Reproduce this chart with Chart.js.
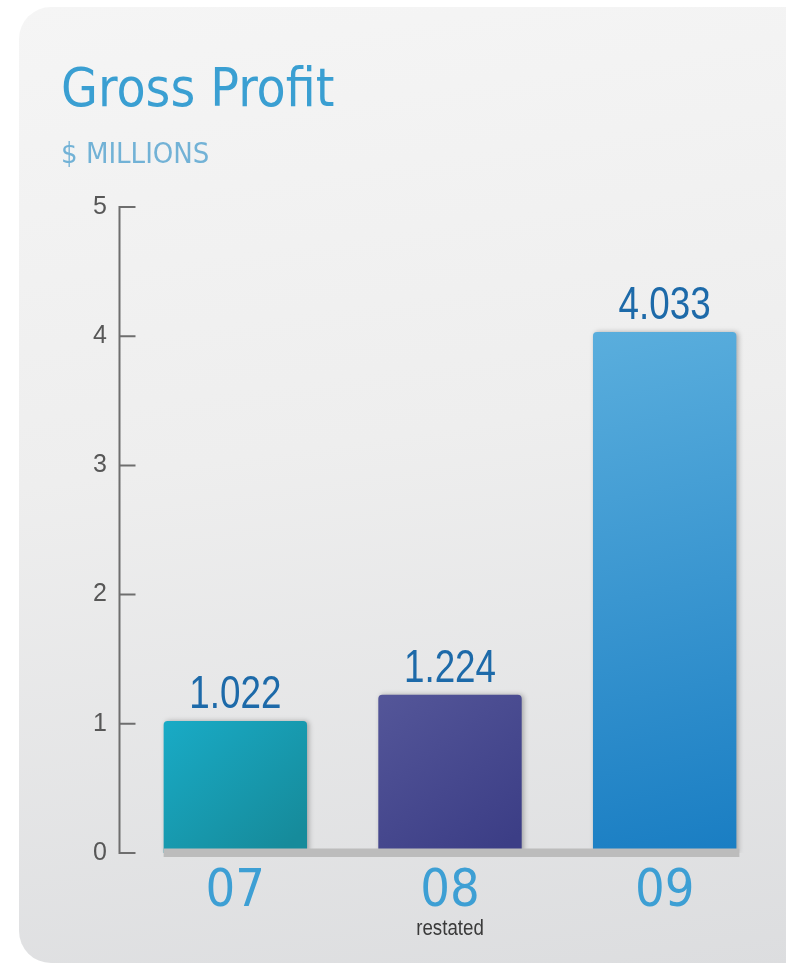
<!DOCTYPE html>
<html>
<head>
<meta charset="utf-8">
<script src="https://cdn.jsdelivr.net/npm/chart.js@4/dist/chart.umd.min.js"></script>
<style>
  html, body { margin: 0; padding: 0; background: #ffffff; }
  #wrap { position: relative; width: 786px; height: 965px; overflow: hidden; }
  #panel { position: absolute; left: 19px; top: 7px; width: 800px; height: 956px;
           border-radius: 32px;
           background: linear-gradient(172deg, #f5f5f5 0%, #eeeeee 45%, #dcdddf 100%); }
  #c { position: absolute; left: 0; top: 0; }
</style>
</head>
<body>
<div id="wrap">
  <div id="panel"></div>
  <canvas id="c" width="786" height="965"></canvas>
</div>
<script>
// ---- data ----
const titleText = 'Gross Profit';
const subtitleText = '$ MILLIONS';
const categories = ['07', '08', '09'];
const subLabels = ['', 'restated', ''];
const values = [1.022, 1.224, 4.033];
const valueLabels = ['1.022', '1.224', '4.033'];
const yTicks = [0, 1, 2, 3, 4, 5];
const barTopColors = ['#19abc6', '#545699', '#5aaedd'];
const barBottomColors = ['#168b9b', '#3c3e86', '#1a7ec3'];

const condensed = "'DejaVu Sans Condensed', 'Liberation Sans Narrow', sans-serif";
const regular = "'Liberation Sans', Arial, sans-serif";

function barGradient(context) {
  const chart = context.chart;
  const area = chart.chartArea;
  const i = context.dataIndex;
  if (!area || i === undefined) return barTopColors[i || 0];
  const xs = chart.scales.x, ys = chart.scales.y;
  const cx = xs.getPixelForValue(i);
  const top = ys.getPixelForValue(values[i]);
  const bottom = ys.getPixelForValue(0);
  const half = 72;
  const g = chart.ctx.createLinearGradient(cx - half, top, cx + half * 0.6, bottom);
  g.addColorStop(0, barTopColors[i]);
  g.addColorStop(1, barBottomColors[i]);
  return g;
}

function narrowText(ctx, text, x, y, font, sx) {
  ctx.save();
  ctx.font = font;
  ctx.translate(x, y);
  ctx.scale(sx, 1);
  ctx.fillText(text, 0, 0);
  ctx.restore();
}

const decorPlugin = {
  id: 'decor',
  beforeDatasetsDraw(chart) {
    const ctx = chart.ctx;
    ctx.save();
    ctx.shadowColor = 'rgba(0,0,0,0.28)';
    ctx.shadowBlur = 5;
    ctx.shadowOffsetX = 2;
    ctx.shadowOffsetY = 0;
  },
  afterDatasetsDraw(chart) {
    const ctx = chart.ctx;
    ctx.restore();
    const ys = chart.scales.y;
    const xs = chart.scales.x;
    const area = chart.chartArea;
    const meta = chart.getDatasetMeta(0);
    const zero = ys.getPixelForValue(0);
    const top = ys.getPixelForValue(ys.max);
    // floor band
    const first = meta.data[0], last = meta.data[meta.data.length - 1];
    const bl = first.x - first.width / 2;
    const br = last.x + last.width / 2 + 3;
    ctx.save();
    ctx.fillStyle = '#bcbcbc';
    ctx.fillRect(bl, zero - 4.5, br - bl, 8.5);
    ctx.restore();
    // axis line + ticks
    const ax = area.left - 8.5;
    ctx.save();
    ctx.strokeStyle = '#6e6e6e';
    ctx.lineWidth = 2;
    ctx.beginPath();
    ctx.moveTo(ax, top - 1);
    ctx.lineTo(ax, zero + 1);
    yTicks.forEach(v => {
      const y = ys.getPixelForValue(v);
      ctx.moveTo(ax - 1, y);
      ctx.lineTo(ax + 16, y);
    });
    ctx.stroke();
    ctx.restore();
    // value labels
    ctx.save();
    ctx.fillStyle = '#1d6aa9';
    ctx.textAlign = 'center';
    ctx.textBaseline = 'alphabetic';
    meta.data.forEach((bar, i) => {
      narrowText(ctx, valueLabels[i], bar.x, bar.y - 13, '46px ' + regular, 0.8);
    });
    ctx.restore();
    // sub labels under categories
    ctx.save();
    ctx.fillStyle = '#3a3a3a';
    ctx.textAlign = 'center';
    ctx.textBaseline = 'alphabetic';
    subLabels.forEach((s, i) => {
      if (s) narrowText(ctx, s, xs.getPixelForValue(i), 935, '22px ' + regular, 0.85);
    });
    ctx.restore();
  }
};

new Chart(document.getElementById('c'), {
  type: 'bar',
  data: {
    labels: categories,
    datasets: [{
      data: values,
      backgroundColor: barGradient,
      borderWidth: 0,
      borderRadius: { topLeft: 4, topRight: 4, bottomLeft: 0, bottomRight: 0 },
      borderSkipped: 'bottom',
      categoryPercentage: 1,
      barPercentage: 0.668
    }]
  },
  options: {
    responsive: false,
    animation: false,
    events: [],
    layout: { padding: { left: 61, right: 14, top: 0, bottom: 0 } },
    plugins: {
      legend: { display: false },
      tooltip: { enabled: false },
      title: {
        display: true,
        text: titleText,
        align: 'start',
        color: '#3a9fd2',
        font: { family: condensed, size: 53, weight: 'normal', lineHeight: 1.2 },
        padding: { top: 60, bottom: 0 }
      },
      subtitle: {
        display: true,
        text: subtitleText,
        align: 'start',
        color: '#72b2d6',
        font: { family: condensed, size: 29, weight: 'normal', lineHeight: 1.2 },
        padding: { top: 14, bottom: 34.6 }
      }
    },
    scales: {
      x: {
        grid: { display: false, drawTicks: false },
        border: { display: false },
        ticks: {
          color: '#3d9fd4',
          font: { family: condensed, size: 52, weight: 'normal', lineHeight: 1.2 },
          padding: 8
        },
        afterFit(scale) { scale.height = 112; }
      },
      y: {
        min: 0,
        max: 5,
        grid: { display: false, drawTicks: false },
        border: { display: false },
        ticks: {
          stepSize: 1,
          color: '#575757',
          font: { family: regular, size: 25, weight: 'normal' },
          padding: 21
        },
        afterFit(scale) { scale.width = 67; }
      }
    }
  },
  plugins: [decorPlugin]
});
</script>
</body>
</html>
